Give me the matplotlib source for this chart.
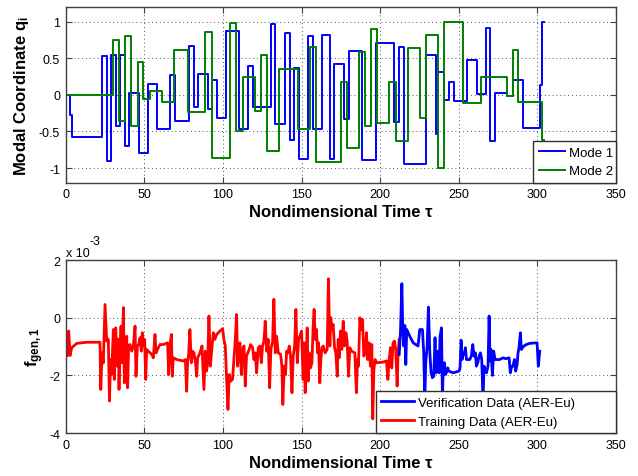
import matplotlib
matplotlib.use('Agg')
import matplotlib.pyplot as plt

plt.rcParams['font.family'] = ['Liberation Sans', 'DejaVu Sans']
plt.rcParams['mathtext.fontset'] = 'custom'
plt.rcParams['mathtext.rm'] = 'Liberation Sans'
plt.rcParams['mathtext.bf'] = 'Liberation Sans:bold'
plt.rcParams['mathtext.it'] = 'Liberation Sans:italic'
plt.rcParams['axes.unicode_minus'] = False

# ---- top panel: modal coordinates (step signals) ----
mode1_t = [0, 3.0, 4.0, 23.2, 26.0, 28.7, 32.0, 34.5, 37.4, 40.4, 46.4, 52.1, 58.3, 66.4, 69.7,
           78.3, 81.3, 84.1, 90.2, 92.8, 96.1, 101.8, 110.3, 116.0, 119.3, 130.4, 133.4, 139.5,
           142.6, 145.0, 148.3, 154.0, 157.0, 162.7, 168.4, 170.8, 177.1, 180.1, 188.6, 197.2,
           208.9, 212.1, 215.3, 229.0, 235.4, 237.1, 240.7, 243.9, 247.0, 255.5, 261.4, 267.2,
           269.9, 273.0, 280.5, 284.3, 290.7, 301.7, 303.2, 304.0]
mode1_q = [0, -0.28, -0.57, 0.53, -0.9, 0.55, -0.42, 0.55, -0.7, 0.02, -0.79, 0.15, -0.47, 0.27,
           -0.36, 0.67, -0.16, 0.28, -0.19, 0.2, -0.32, 0.88, -0.46, 0.4, -0.17, 0.97, -0.4, 0.85,
           -0.61, 0.37, -0.87, 0.8, -0.46, 0.82, -0.88, 0.43, -0.33, 0.6, -0.89, 0.71, -0.37, 0.65,
           -0.94, 0.55, -0.53, 0.32, -0.07, 0.18, -0.08, 0.48, 0.01, 0.92, -0.63, 0.02, -0.02,
           0.21, -0.45, 0.13, 1.0]

mode2_t = [0, 30.3, 34.1, 37.9, 41.7, 45.8, 49.4, 53.6, 61.4, 69.0, 77.5, 88.8, 93.0, 104.7,
           108.5, 112.5, 120.1, 124.2, 128.2, 135.6, 147.7, 155.1, 159.1, 174.8, 179.0, 186.4,
           190.3, 194.1, 198.3, 205.7, 210.0, 217.6, 225.6, 229.2, 237.1, 240.9, 253.0, 264.2,
           280.5, 284.3, 287.9, 303.2, 304.5]
mode2_q = [0, 0.75, -0.36, 0.8, -0.43, 0.45, -0.05, 0.06, -0.09, 0.61, -0.24, 0.86, -0.86, 0.98,
           -0.49, 0.24, -0.22, 0.55, -0.77, 0.36, -0.46, 0.65, -0.92, 0.18, -0.72, 0.59, -0.43,
           0.9, -0.39, 0.18, -0.63, 0.64, -0.32, 0.82, -1.0, 1.0, -0.11, 0.24, -0.01, 0.62,
           -0.1, -0.62]

# ---- bottom panel: generalized force, units of 1e-3 ----
train_t = [0.0, 1.3, 1.9, 2.8, 3.8, 7.0, 13.4, 21.8, 22.3, 23.1, 23.9, 25.0, 26.1, 27.1, 27.8,
           28.6, 29.2, 30.3, 30.9, 31.8, 32.8, 33.5, 33.9, 34.5, 35.2, 35.8, 36.7, 37.3, 38.1,
           38.8, 39.4, 40.0, 40.9, 42.0, 43.0, 44.1, 44.7, 45.6, 46.4, 47.3, 48.1, 48.7, 49.4,
           50.2, 50.9, 51.5, 52.5, 54.7, 55.7, 56.8, 57.4, 58.9, 60.0, 62.1, 64.8, 65.5, 66.3,
           67.2, 67.8, 68.4, 70.6, 74.8, 76.1, 76.9, 77.5, 78.2, 79.0, 79.9, 80.7, 81.6, 82.8,
           83.3, 83.9, 85.4, 86.7, 87.9, 88.8, 89.6, 90.3, 91.1, 92.0, 92.8, 93.9, 94.9, 96.0,
           98.1, 99.8, 100.6, 101.5, 102.3, 103.2, 104.0, 104.9, 106.1, 107.0, 107.8, 108.7,
           109.3, 110.0, 110.8, 111.7, 112.5, 113.4, 114.2, 115.0, 116.7, 117.6, 118.9, 119.7,
           120.6, 121.4, 122.5, 123.5, 124.4, 125.2, 126.1, 126.9, 127.8, 128.8, 129.7, 130.5,
           131.6, 132.4, 133.3, 134.1, 135.2, 136.7, 137.5, 138.1, 139.0, 139.8, 140.5, 141.3,
           142.2, 143.0, 143.9, 144.7, 145.6, 146.4, 147.3, 148.1, 148.9, 150.0, 151.0, 151.7,
           152.3, 152.9, 153.6, 154.2, 154.9, 155.7, 156.6, 157.4, 158.0, 158.7, 159.5, 160.2,
           160.8, 161.6, 162.3, 162.9, 163.8, 165.0, 166.3, 167.1, 168.0, 168.6, 169.3, 170.1,
           171.0, 171.8, 172.7, 173.3, 173.9, 174.8, 175.6, 176.5, 177.3, 178.2, 179.0, 179.9,
           180.7, 181.8, 183.9, 184.9, 185.6, 186.2, 187.1, 187.9, 188.8, 189.6, 190.5, 191.3,
           192.1, 193.0, 193.8, 194.7, 195.3, 196.0, 196.8, 197.7, 201.9, 204.0, 204.9, 205.7,
           206.6, 207.4, 208.2, 209.1, 209.9, 210.8, 211.4, 212.1]
train_f = [-1.33, -1.31, -0.46, -1.31, -1.04, -0.89, -0.85, -0.85, -2.49, -1.22, -1.57, 0.46,
           -0.81, -0.75, -2.89, -1.45, -1.97, -0.41, -2.14, -0.35, -1.68, -0.75, -2.49, -0.98,
           -0.29, -1.56, 0.35, -2.26, -1.22, -0.64, -2.43, -0.98, -0.93, -1.16, -0.98, -0.29,
           -2.03, -0.98, -0.93, -0.69, -1.16, -0.52, -0.98, -0.75, -2.14, -1.1, -1.16, -1.27,
           -1.39, -0.58, -1.22, -1.04, -0.93, -0.93, -0.87, -1.97, -0.98, -0.58, -2.03, -1.39,
           -1.45, -1.5, -1.45, -2.55, -1.56, -1.27, -0.41, -1.56, -1.16, -1.22, -1.68, -2.03,
           -1.39, -1.22, -0.98, -2.49, -1.16, -1.85, -1.56, 0.06, -1.68, -1.16, -0.52, -0.75,
           -0.58, -0.46, -0.38, -0.75, -0.98, -2.08, -3.18, -1.97, -2.2, -2.14, -1.45, -0.81,
           0.11, -1.68, -1.27, -0.87, -1.97, -1.1, -0.98, -2.37, -1.33, -1.1, -0.93, -1.04,
           -1.45, -1.22, -1.91, -1.04, -0.98, -1.56, -0.98, -0.81, -0.12, -1.16, -0.75, -2.43,
           -1.1, -0.81, 0.64, -1.22, -0.64, -1.22, -1.27, -1.68, -3.01, -1.68, -1.97, -1.16,
           -1.22, -0.98, -1.33, -2.6, -1.33, -0.98, 0.29, -1.56, -0.75, -0.64, -0.46, -2.14,
           -0.87, -2.6, -1.45, -0.35, -2.2, -1.22, -1.74, -1.56, -0.29, 0.29, -0.75, -0.41,
           -1.22, -0.87, -2.26, -1.45, -1.04, -0.98, -1.22, -1.1, 1.35, -0.98, 0.0, -0.41,
           -0.23, -1.04, -1.22, -2.03, -0.75, -1.39, -0.46, -1.1, -0.12, -0.98, -0.52, -0.81,
           -2.03, -1.04, -1.16, -1.22, -2.6, -1.45, -1.68, 0.0, -0.41, -0.06, -1.33, -1.22,
           -0.52, -1.45, -0.87, -1.68, -0.93, -3.51, -1.8, -1.45, -1.56, -1.54, -1.5, -2.14,
           -1.45, -1.04, -1.74, -0.87, -0.81, -1.1, -2.37, -1.22, -0.75]

verif_t = [212.1, 212.9, 213.8, 214.4, 215.0, 215.7, 216.3, 216.9, 217.8, 218.8, 221.0, 224.1,
           225.2, 226.9, 227.7, 228.4, 229.0, 229.9, 230.7, 231.6, 232.4, 233.2, 234.1, 234.9,
           235.6, 236.2, 236.8, 237.5, 238.1, 239.0, 239.6, 240.2, 240.9, 241.5, 242.1, 243.0,
           243.6, 246.4, 250.2, 250.8, 251.5, 252.1, 252.7, 253.6, 254.2, 254.9, 257.0, 258.0,
           258.9, 259.7, 260.6, 261.2, 262.1, 262.9, 263.8, 264.6, 265.4, 266.1, 266.9, 267.6,
           268.6, 269.3, 269.9, 270.5, 271.4, 272.2, 273.1, 276.0, 278.2, 279.9, 282.0, 282.8,
           283.7, 284.5, 285.4, 286.2, 287.1, 287.7, 288.3, 289.2, 289.8, 290.5, 291.5, 293.0,
           295.1, 299.8, 300.6, 301.5]
verif_f = [-1.27, -0.52, 1.18, -0.41, -0.98, -0.27, -1.62, -0.41, -0.52, -0.64, -0.87, -0.98,
           -0.41, -0.41, -1.22, -2.84, -1.56, -0.98, 0.37, -1.22, -1.91, -2.08, -2.03, -0.69,
           -1.91, -1.33, -1.16, -1.91, -0.64, -0.35, -2.72, -1.68, -1.56, -1.97, -1.91, -1.74,
           -1.85, -1.91, -1.85, -1.74, -0.78, -1.45, -1.22, -1.27, -1.04, -1.45, -1.45, -1.33,
           -0.93, -1.33, -1.22, -1.68, -1.56, -1.33, -1.22, -1.45, -2.84, -1.68, -1.85, -1.91,
           -1.68, 0.06, -1.5, -1.1, -2.0, -1.16, -1.45, -1.45, -1.39, -1.42, -1.39, -1.91,
           -1.68, -1.68, -1.45, -1.85, -1.62, -1.22, -1.04, -0.52, -1.1, -1.04, -0.98, -0.93,
           -0.89, -0.87, -1.68, -1.16]

xticks = [0, 50, 100, 150, 200, 250, 300, 350]
xlabel = 'Nondimensional Time τ'

fig = plt.figure(figsize=(6.38, 4.77), dpi=100)
ax1 = fig.add_axes([0.103, 0.615, 0.8625, 0.3677])
ax2 = fig.add_axes([0.103, 0.090, 0.8625, 0.3627])


def style_axes(ax):
    ax.set_axisbelow(True)
    ax.grid(True, color='#555555', linestyle=(0, (1, 3)), linewidth=0.7)
    for s in ax.spines.values():
        s.set_color('#404040')
        s.set_linewidth(1.0)
    ax.tick_params(direction='in', top=True, right=True, length=4, width=0.8,
                   color='#404040', labelsize=9, pad=4)
    ax.set_xlim(0, 350)
    ax.set_xticks(xticks)
    ax.set_xlabel(xlabel, fontsize=12, fontweight='bold', labelpad=3)


ax1.step(mode1_t, mode1_q + [mode1_q[-1]], where='post', color='#0000ff', lw=1.4, label='Mode 1')
ax1.step(mode2_t, mode2_q + [mode2_q[-1]], where='post', color='#008000', lw=1.4, label='Mode 2')
style_axes(ax1)
ax1.set_ylim(-1.2, 1.2)
ax1.set_yticks([-1, -0.5, 0, 0.5, 1])
ax1.set_yticklabels(['-1', '-0.5', '0', '0.5', '1'])
ax1.set_ylabel('Modal Coordinate q$_\\mathbf{i}$', fontsize=12, fontweight='bold')
ax1.yaxis.set_label_coords(-0.063, 0.5)
ax1.legend(loc='lower left', bbox_to_anchor=(0.85, 0, 0.15, 0.2), mode='expand',
           borderaxespad=0, fancybox=False, edgecolor='#303030', framealpha=1,
           fontsize=9.5, handlelength=2.0, handletextpad=0.3)

l_train, = ax2.plot(train_t, train_f, color='#ff0000', lw=2.0, label='Training Data (AER-Eu)')
l_verif, = ax2.plot(verif_t, verif_f, color='#0000ff', lw=2.0, label='Verification Data (AER-Eu)')
style_axes(ax2)
ax2.set_ylim(-4, 2)
ax2.set_yticks([-4, -2, 0, 2])
ax2.set_ylabel('f$_\\mathbf{gen,1}$', fontsize=12, fontweight='bold')
ax2.yaxis.set_label_coords(-0.036, 0.5)
ax2.text(0.0, 1.023, 'x 10', transform=ax2.transAxes, fontsize=9, va='baseline', ha='left')
ax2.text(0.044, 1.092, '-3', transform=ax2.transAxes, fontsize=9, va='baseline', ha='left')
ax2.legend(handles=[l_verif, l_train], loc='lower left', bbox_to_anchor=(0.564, 0, 0.436, 0.2),
           mode='expand', borderaxespad=0, fancybox=False, edgecolor='#303030', framealpha=1,
           fontsize=9.5, handlelength=2.5, handletextpad=0.3)

fig.savefig('out.png', dpi=100)
